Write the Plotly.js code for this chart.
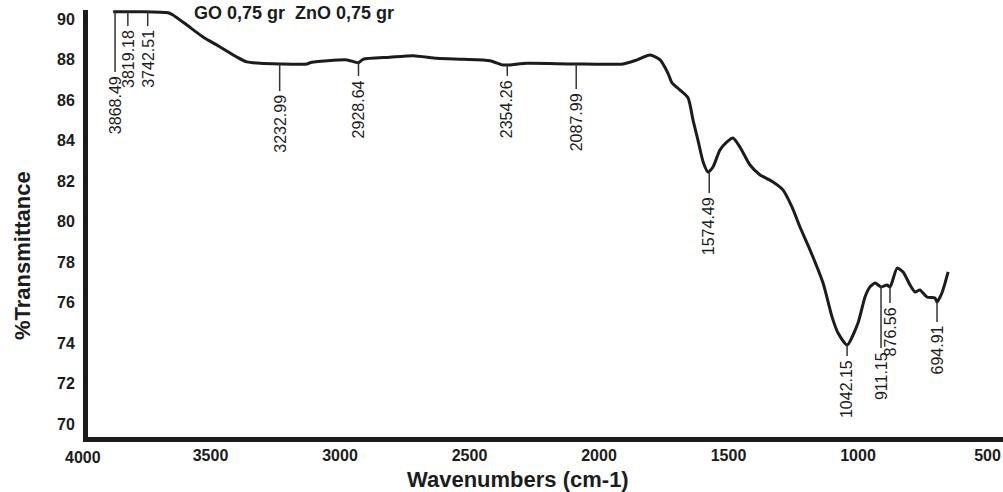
<!DOCTYPE html>
<html>
<head>
<meta charset="utf-8">
<script src="https://cdn.plot.ly/plotly-3.0.1.min.js"></script>
<style>html,body{margin:0;padding:0;background:#fff;}#chart{width:1003px;height:492px;}</style>
</head>
<body>
<div id="chart"></div>
<script>
// FT-IR spectrum, GO 0,75 gr  ZnO 0,75 gr
const wavenumber = [3876, 3772, 3664, 3645, 3591, 3529, 3463, 3398, 3359, 3309, 3232, 3127, 3116, 2973, 2930, 2911, 2807, 2718, 2625, 2525, 2421, 2371, 2344, 2278, 2100, 1907, 1853, 1803, 1764, 1734, 1718, 1687, 1656, 1637, 1618, 1598, 1579, 1560, 1533, 1506, 1483, 1456, 1417, 1378, 1328, 1290, 1255, 1224, 1185, 1135, 1100, 1077, 1042, 1000, 973, 954, 934, 911, 888, 876, 849, 826, 799, 780, 761, 734, 703, 695, 676, 664, 652];
const transmittance = [90.36, 90.36, 90.31, 90.20, 89.70, 89.11, 88.62, 88.12, 87.88, 87.81, 87.78, 87.78, 87.84, 87.98, 87.84, 88.01, 88.11, 88.19, 88.06, 88.01, 87.94, 87.73, 87.73, 87.81, 87.78, 87.78, 87.98, 88.22, 87.98, 87.33, 86.84, 86.49, 86.10, 85.01, 84.02, 82.94, 82.44, 82.69, 83.53, 83.93, 84.12, 83.68, 82.79, 82.30, 81.95, 81.56, 80.72, 79.73, 78.59, 76.96, 75.28, 74.49, 73.90, 74.99, 76.27, 76.77, 76.96, 76.77, 76.86, 76.77, 77.70, 77.51, 76.86, 76.52, 76.62, 76.27, 76.22, 76.02, 76.47, 76.96, 77.51];

const peakLabels = ['3868.49', '3819.18', '3742.51', '3232.99', '2928.64', '2354.26', '2087.99', '1574.49', '1042.15', '911.15', '876.56', '694.91'];
const peakWavenumbers = [3868.49, 3819.18, 3742.51, 3232.99, 2928.64, 2354.26, 2087.99, 1574.49, 1042.15, 911.15, 876.56, 694.91];
const peakTransmittance = [90.36, 90.36, 90.36, 87.78, 87.84, 87.73, 87.78, 82.44, 73.90, 76.80, 76.80, 76.02];
const peakStemEnd = [87.38, 89.65, 89.65, 86.44, 87.19, 87.19, 86.54, 81.41, 73.36, 73.75, 75.98, 75.04];

const sampleTitle = 'GO 0,75 gr  ZnO 0,75 gr';
const xTitle = 'Wavenumbers (cm-1)';
const yTitle = '%Transmittance';
const xTicks = [4000, 3500, 3000, 2500, 2000, 1500, 1000, 500];
const yTicks = [70, 72, 74, 76, 78, 80, 82, 84, 86, 88, 90];

const FONT = '"Liberation Sans", Arial, sans-serif';
const INK = '#1c1c1c';

const shapes = peakWavenumbers.map((w, i) => ({
  type: 'line', xref: 'x', yref: 'y',
  x0: w, x1: w, y0: peakTransmittance[i], y1: peakStemEnd[i],
  line: {color: '#333', width: 1.5}
}));

const annotations = peakWavenumbers.map((w, i) => ({
  x: w, y: peakStemEnd[i] - 0.1, xref: 'x', yref: 'y',
  text: peakLabels[i], showarrow: false, textangle: -90,
  xanchor: 'center', yanchor: 'top',
  font: {family: FONT, size: 16, color: INK}
}));
// sample title
annotations.push({
  xref: 'paper', yref: 'paper', x: 0.2251, y: 0.9927,
  xanchor: 'center', yanchor: 'middle', showarrow: false,
  text: '<b>' + sampleTitle + '</b>',
  font: {family: FONT, size: 18, color: INK}
});
// axis titles (offset from the plot centre as in the original)
annotations.push({
  xref: 'paper', yref: 'paper', x: 0.4699, y: -0.0984,
  xanchor: 'center', yanchor: 'middle', showarrow: false,
  text: '<b>' + xTitle + '</b>',
  font: {family: FONT, size: 22, color: INK}
});
annotations.push({
  xref: 'paper', yref: 'paper', x: -0.0710, y: 0.4239, textangle: -90,
  xanchor: 'center', yanchor: 'middle', showarrow: false,
  text: '<b>' + yTitle + '</b>',
  font: {family: FONT, size: 22, color: INK}
});
// first x tick label sits just left of the drawn axis
annotations.push({
  xref: 'paper', yref: 'paper', x: -0.0058, y: -0.0470,
  xanchor: 'center', yanchor: 'middle', showarrow: false,
  text: '<b>' + xTicks[0] + '</b>',
  font: {family: FONT, size: 16, color: INK}
});

const trace = {
  x: wavenumber, y: transmittance, type: 'scatter', mode: 'lines',
  line: {color: INK, width: 3, shape: 'spline', smoothing: 0.6},
  hoverinfo: 'skip'
};

const layout = {
  width: 1003, height: 492,
  margin: {l: 88, r: 0, t: 10, b: 55},
  paper_bgcolor: '#fff', plot_bgcolor: '#fff',
  showlegend: false,
  xaxis: {
    range: [3973, 440.2], tickvals: xTicks, ticktext: xTicks.map(v => '<b>' + v + '</b>'),
    showgrid: false, zeroline: false, showline: true, linecolor: INK, linewidth: 5,
    ticks: '', ticklabelstandoff: 0,
    tickfont: {family: FONT, size: 16, color: INK}
  },
  yaxis: {
    range: [69.358, 90.444], tickvals: yTicks, ticktext: yTicks.map(v => '<b>' + v + '</b>'),
    showgrid: false, zeroline: false, showline: true, linecolor: INK, linewidth: 5,
    ticks: '', ticklabelstandoff: 5,
    tickfont: {family: FONT, size: 16, color: INK}
  },
  shapes: shapes,
  annotations: annotations
};

Plotly.newPlot('chart', [trace], layout, {displayModeBar: false, staticPlot: true});
</script>
</body>
</html>
